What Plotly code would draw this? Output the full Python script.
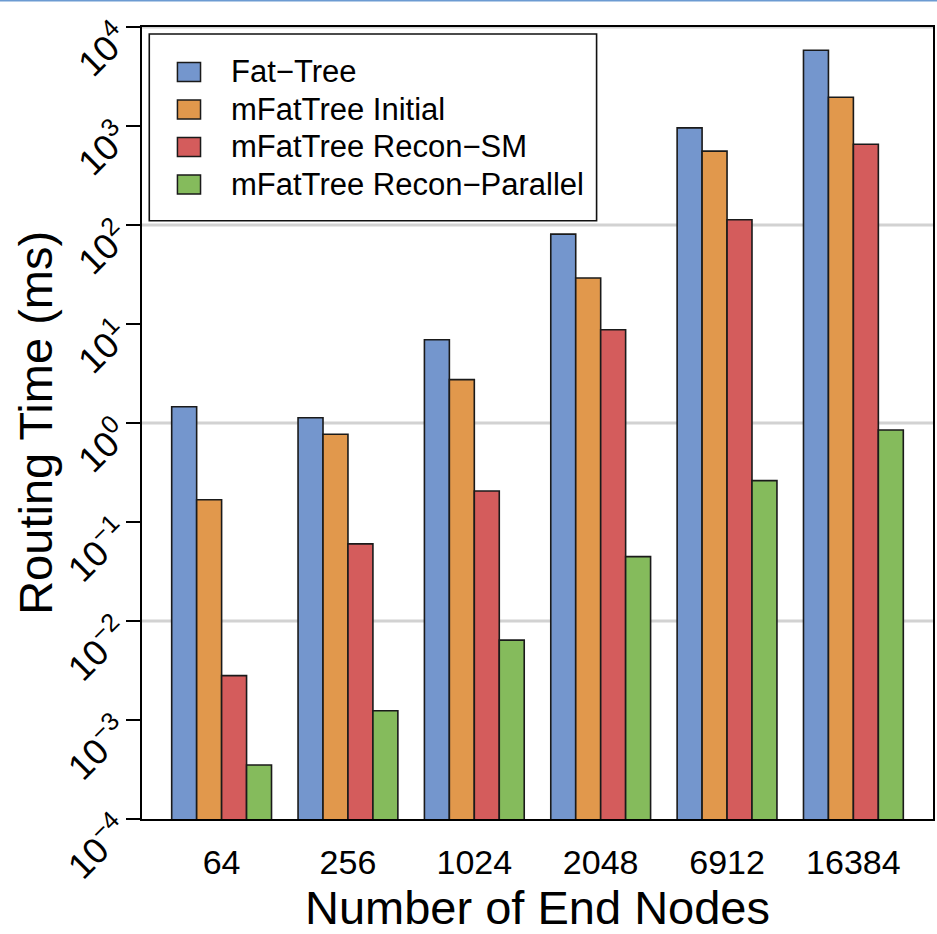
import plotly.graph_objects as go

# ---------------- data ----------------
categories = ["64", "256", "1024", "2048", "6912", "16384"]
series_names = ["Fat\u2212Tree", "mFatTree Initial", "mFatTree Recon\u2212SM", "mFatTree Recon\u2212Parallel"]
fat_tree = [1.46, 1.13, 6.93, 80.9, 957, 5820]
mft_initial = [0.168, 0.769, 2.74, 29.1, 557, 1953]
mft_recon_sm = [0.00281, 0.0601, 0.206, 8.75, 113, 655]
mft_recon_parallel = [0.000351, 0.00124, 0.00641, 0.0447, 0.262, 0.850]
series_values = [fat_tree, mft_initial, mft_recon_sm, mft_recon_parallel]
colors = ["#7496cd", "#e1984c", "#d45c5c", "#85bb5c"]

ytick_vals = [1e-4, 1e-3, 1e-2, 1e-1, 1e0, 1e1, 1e2, 1e3, 1e4]
ytick_text = ["10<sup>\u22124</sup>", "10<sup>\u22123</sup>", "10<sup>\u22122</sup>", "10<sup>\u22121</sup>",
              "10<sup>0</sup>", "10<sup>1</sup>", "10<sup>2</sup>", "10<sup>3</sup>", "10<sup>4</sup>"]
grid_vals = [1e-2, 1e0, 1e2, 1e4]

FONT = "Liberation Sans, Arial, Helvetica, sans-serif"

fig = go.Figure()
for name, vals, col in zip(series_names, series_values, colors):
    fig.add_trace(go.Bar(
        x=categories, y=vals, name=name, showlegend=False,
        marker=dict(color=col, line=dict(color="#1a1a1a", width=1.6)),
    ))

shapes = []
# horizontal grid lines every 2 decades
for g in grid_vals:
    shapes.append(dict(type="line", xref="paper", yref="y", x0=0, x1=1, y0=g, y1=g,
                       line=dict(color="#d2d2d2", width=3), layer="below"))

# manual legend (box, swatches, labels)
shapes.append(dict(type="rect", xref="paper", yref="paper", x0=0.0092, x1=0.5747, y0=0.7554, y1=0.9912,
                   line=dict(color="#111111", width=1.6), fillcolor="white", layer="above"))
annotations = []
row_y0 = 0.9432
row_step = 0.04735
for i, (name, col) in enumerate(zip(series_names, colors)):
    yc = row_y0 - i * row_step
    shapes.append(dict(type="rect", xref="paper", yref="paper", x0=0.0448, x1=0.0740,
                       y0=yc - 0.012, y1=yc + 0.012,
                       line=dict(color="#1a1a1a", width=1.5), fillcolor=col, layer="above"))
    annotations.append(dict(xref="paper", yref="paper", x=0.1097, y=yc, text=name, showarrow=False,
                            xanchor="left", yanchor="middle", font=dict(size=31, color="black", family=FONT)))

# y axis title as annotation for precise placement
annotations.append(dict(xref="paper", yref="paper", x=-0.1355, y=0.5, text="Routing Time (ms)",
                        showarrow=False, textangle=-90, xanchor="center", yanchor="middle",
                        font=dict(size=47, color="black", family=FONT)))

# thin blue line at very top of the image
shapes.append(dict(type="line", xref="paper", yref="paper", x0=-0.2, x1=1.2, y0=1.0335, y1=1.0335,
                   line=dict(color="#6c9bd2", width=2), layer="above"))

fig.update_layout(
    width=937, height=934,
    margin=dict(l=142, r=2, t=27, b=115),
    paper_bgcolor="white", plot_bgcolor="white",
    barmode="group", bargap=0.21, bargroupgap=0,
    font=dict(family=FONT, color="black"),
    shapes=shapes, annotations=annotations,
    xaxis=dict(
        type="category", range=[-0.63, 5.63],
        showline=True, linecolor="black", linewidth=2, mirror=True,
        ticks="", showgrid=False, ticklabelstandoff=12,
        tickfont=dict(size=34, color="black", family=FONT),
        title=dict(text="Number of End Nodes", font=dict(size=47, color="black", family=FONT), standoff=16),
    ),
    yaxis=dict(
        type="log", range=[-4, 4],
        showline=True, linecolor="black", linewidth=2, mirror=True,
        ticks="outside", ticklen=14, tickwidth=1.6, tickcolor="black",
        tickvals=ytick_vals, ticktext=ytick_text, tickangle=-45,
        ticklabelshift=6,
        tickfont=dict(size=36, color="black", family=FONT),
        showgrid=False, zeroline=False,
    ),
)

fig.write_html("out.html")
